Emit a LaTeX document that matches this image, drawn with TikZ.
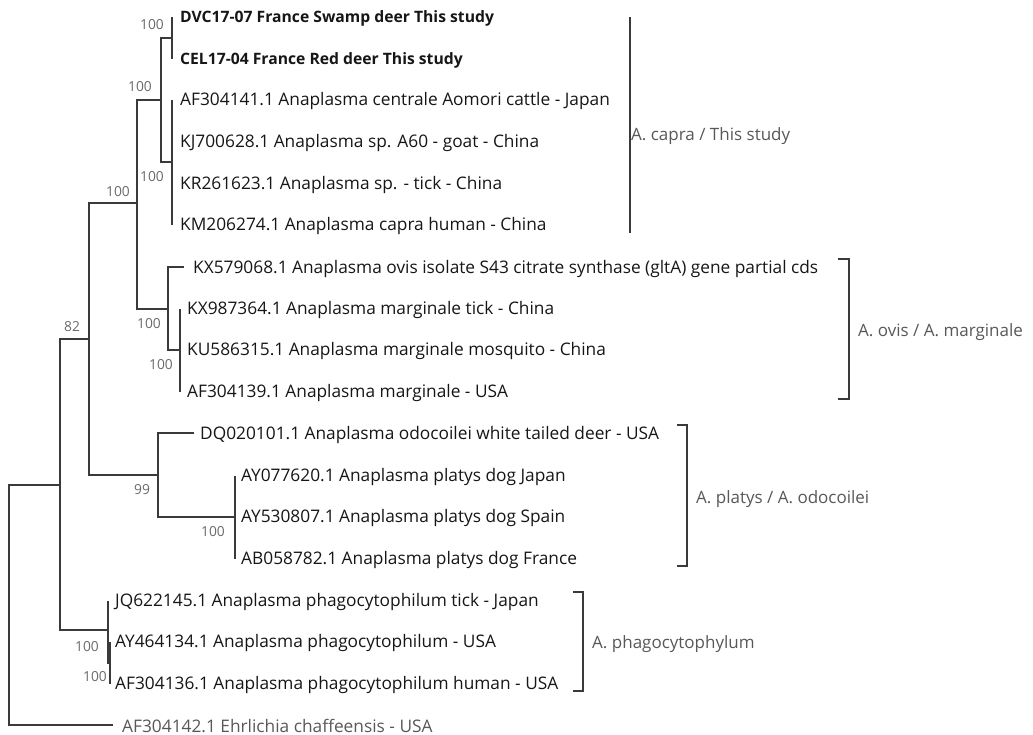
\documentclass[tikz,border=0pt]{standalone}
\usepackage{fontspec}
\setmainfont{Open Sans}
\definecolor{linec}{HTML}{3A3A3A}
\definecolor{tipc}{HTML}{161616}
\definecolor{bootc}{HTML}{6A6A6A}
\definecolor{cladec}{HTML}{585858}
\begin{document}
\begin{tikzpicture}[x=1pt,y=-1pt,
  br/.style={draw=linec, line width=1.2pt},
  tiplab/.style={anchor=west, inner sep=0pt, text=tipc, font=\fontsize{17.3}{19}\selectfont},
  boldlab/.style={anchor=west, inner sep=0pt, text=tipc, font=\fontsize{15.7}{18}\selectfont\bfseries},
  boot/.style={inner sep=0pt, text=bootc, font=\fontsize{13.8}{15}\selectfont},
  cladelab/.style={anchor=west, inner sep=0pt, text=cladec, font=\fontsize{17}{19}\selectfont},
  bracket/.style={draw=linec, line width=1.1pt}]
\useasboundingbox (0,0) rectangle (1033,735);
% tips (branch ends)
\coordinate (tDVC) at (172,17);
\coordinate (tCEL) at (172,59);
\coordinate (tAFa) at (172,100);
\coordinate (tKJ) at (172,142);
\coordinate (tKR) at (172,184);
\coordinate (tKM) at (172,225);
\coordinate (tKXa) at (184,267);
\coordinate (tKXb) at (180,309);
\coordinate (tKU) at (180,350);
\coordinate (tAFb) at (180,392);
\coordinate (tDQ) at (194,433);
\coordinate (tAYa) at (235,476);
\coordinate (tAYb) at (235,517);
\coordinate (tAB) at (235,559);
\coordinate (tJQ) at (108,601);
\coordinate (tAYc) at (110,642);
\coordinate (tAFc) at (110,684);
\coordinate (tAFd) at (113,725);
% internal nodes
\coordinate (n1) at (172,38);
\coordinate (n2) at (172,162);
\coordinate (n3) at (161,100);
\coordinate (n4) at (180,350);
\coordinate (n5) at (168,309);
\coordinate (n6) at (137,203);
\coordinate (n7) at (235,517);
\coordinate (n8) at (158,475);
\coordinate (n9) at (89,339);
\coordinate (n12) at (110,663);
\coordinate (n10) at (108,630);
\coordinate (n11) at (60,485);
\coordinate (root) at (9,605);
% branches
\draw[br] (tDVC) -| (n1) |- (tCEL);
\draw[br] (tAFa) -| (n2) |- (tKM);
\draw[br] (n1) -| (n3) |- (n2);
\draw[br] (tKXb) -| (n4) |- (tAFb);
\draw[br] (tKXa) -| (n5) |- (n4);
\draw[br] (n3) -| (n6) |- (n5);
\draw[br] (tAYa) -| (n7) |- (tAB);
\draw[br] (tDQ) -| (n8) |- (n7);
\draw[br] (n6) -| (n9) |- (n8);
\draw[br] (tAYc) -| (n12) |- (tAFc);
\draw[br] (tJQ) -| (n10) |- (n12);
\draw[br] (n9) -| (n11) |- (n10);
\draw[br] (n11) -| (root) |- (tAFd);
% tip labels
\node[boldlab] (lDVC) at (180,18) {DVC17-07 France Swamp deer This study};
\node[boldlab] (lCEL) at (180,60) {CEL17-04 France Red deer This study};
\node[tiplab] (lAFa) at (180,101) {AF304141.1 Anaplasma centrale Aomori cattle - Japan};
\node[tiplab] (lKJ) at (180,143) {KJ700628.1 Anaplasma sp. A60 - goat - China};
\node[tiplab] (lKR) at (180,185) {KR261623.1 Anaplasma sp. - tick - China};
\node[tiplab] (lKM) at (180,226) {KM206274.1 Anaplasma capra human - China};
\node[tiplab] (lKXa) at (193,269) {KX579068.1 Anaplasma ovis isolate S43 citrate synthase (gltA) gene partial cds};
\node[tiplab] (lKXb) at (187,310) {KX987364.1 Anaplasma marginale tick - China};
\node[tiplab] (lKU) at (187,351) {KU586315.1 Anaplasma marginale mosquito - China};
\node[tiplab] (lAFb) at (187,393) {AF304139.1 Anaplasma marginale - USA};
\node[tiplab] (lDQ) at (200,435) {DQ020101.1 Anaplasma odocoilei white tailed deer - USA};
\node[tiplab] (lAYa) at (241,477) {AY077620.1 Anaplasma platys dog Japan};
\node[tiplab] (lAYb) at (241,518) {AY530807.1 Anaplasma platys dog Spain};
\node[tiplab] (lAB) at (241,560) {AB058782.1 Anaplasma platys dog France};
\node[tiplab] (lJQ) at (115,602) {JQ622145.1 Anaplasma phagocytophilum tick - Japan};
\node[tiplab] (lAYc) at (115,643) {AY464134.1 Anaplasma phagocytophilum - USA};
\node[tiplab] (lAFc) at (115,685) {AF304136.1 Anaplasma phagocytophilum human - USA};
\node[tiplab, text=cladec] (lAFd) at (122,726) {AF304142.1 Ehrlichia chaffeensis - USA};
% bootstrap values
\node[boot] (b1) at (152,25) {100};
\node[boot] (b3) at (140,87) {100};
\node[boot] (b2) at (152,177) {100};
\node[boot] (b6) at (118,192) {100};
\node[boot] (b5) at (149,324) {100};
\node[boot] (b4) at (161,365) {100};
\node[boot] (b9) at (72,327) {82};
\node[boot] (b8) at (142,490) {99};
\node[boot] (b7) at (213,532) {100};
\node[boot] (b10) at (87,647) {100};
\node[boot] (b12) at (95,677) {100};
% clade brackets
\coordinate (kA1) at (630,17);
\coordinate (kA2) at (630,233);
\draw[bracket] (kA1) -- (kA2);
\coordinate (kB1) at (838,259);
\coordinate (kB2) at (838,399);
\draw[bracket] (kB1) -| (849,329) |- (kB2);
\coordinate (kC1) at (677,425);
\coordinate (kC2) at (677,566);
\draw[bracket] (kC1) -| (687,495) |- (kC2);
\coordinate (kD1) at (573,592);
\coordinate (kD2) at (573,691);
\draw[bracket] (kD1) -| (583,640) |- (kD2);
\node[cladelab] (cA) at (631,136) {A. capra / This study};
\node[cladelab] (cB) at (858,332) {A. ovis / A. marginale};
\node[cladelab] (cC) at (696,499) {A. platys / A. odocoilei};
\node[cladelab] (cD) at (592,644) {A. phagocytophylum};
\end{tikzpicture}
\end{document}
